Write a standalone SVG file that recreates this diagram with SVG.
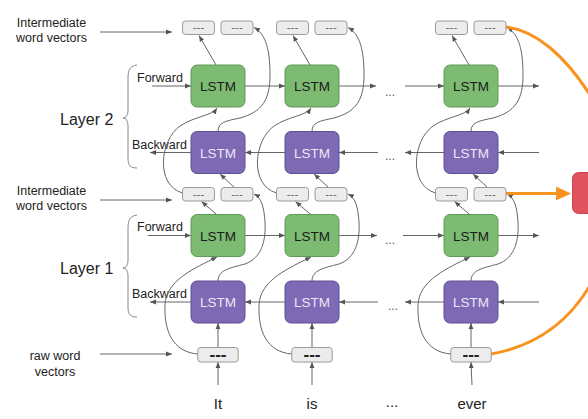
<svg xmlns="http://www.w3.org/2000/svg" width="588" height="419" viewBox="0 0 588 419">
<defs>
<marker id="ah" viewBox="0 0 10 10" refX="10" refY="5" markerWidth="6" markerHeight="6" markerUnits="userSpaceOnUse" orient="auto"><path d="M0,1 L10,5 L0,9 z" fill="#555"/></marker>
<style>
text{font-family:"Liberation Sans",Arial,sans-serif}
.lbl{font-size:12.5px;fill:#222}
.big{font-size:16px;fill:#222}
.word{font-size:15px;fill:#222;text-anchor:middle}
.dots{font-size:12px;fill:#555;text-anchor:middle}
.vec rect{fill:#ececec;stroke:#9a9a9a;stroke-width:1}
.vec text{font-size:11.5px;fill:#666;text-anchor:middle}
.raw rect{fill:#ececec;stroke:#9a9a9a;stroke-width:1}
.raw text{font-size:17px;font-weight:bold;fill:#222;text-anchor:middle}
.fw rect{fill:#7dbb72;stroke:#5e9a57;stroke-width:1}
.fw text{font-size:13.5px;fill:#1a1a1a;text-anchor:middle}
.bw rect{fill:#7d69b4;stroke:#5f4f93;stroke-width:1}
.bw text{font-size:13.5px;fill:#ebe6f7;text-anchor:middle}
.c{fill:none;stroke:#666;stroke-width:1;marker-end:url(#ah)}
.br{fill:none;stroke:#888;stroke-width:1}
.or{fill:none;stroke:#f7931e;stroke-width:3}
</style>
</defs>
<rect width="588" height="419" fill="#fff"/>

<g id="labels">
<text class="lbl" x="51.5" y="27" text-anchor="middle">Intermediate</text>
<text class="lbl" x="51.5" y="42" text-anchor="middle">word vectors</text>
<text class="lbl" x="51.5" y="195" text-anchor="middle">Intermediate</text>
<text class="lbl" x="51.5" y="210" text-anchor="middle">word vectors</text>
<text class="lbl" x="55" y="360" text-anchor="middle">raw word</text>
<text class="lbl" x="55" y="376" text-anchor="middle">vectors</text>
<text class="lbl" x="137" y="82">Forward</text>
<text class="lbl" x="132" y="149">Backward</text>
<text class="lbl" x="137" y="231">Forward</text>
<text class="lbl" x="132" y="298">Backward</text>
<text class="big" x="60" y="125">Layer 2</text>
<text class="big" x="60" y="274">Layer 1</text>
<path class="br" d="M137,65 C130,66 128,70 128,78 L128,110 C128,115 126,118 123,118 C126,118 128,121 128,126 L128,158 C128,165 130,168 137,168"/>
<path class="br" d="M137,215 C130,216 128,220 128,228 L128,260 C128,265 126,268 123,268 C126,268 128,271 128,276 L128,307 C128,314 130,317 137,317"/>
<text class="word" x="218" y="409">It</text>
<text class="word" x="312" y="409">is</text>
<text class="word" x="392" y="407">...</text>
<text class="word" x="472" y="409">ever</text>
<text class="dots" x="390" y="96">...</text>
<text class="dots" x="390" y="160">...</text>
<text class="dots" x="390" y="244">...</text>
<text class="dots" x="393" y="310">...</text>
</g>

<g id="connectors">
<path class="c" d="M100,32 L172,32"/>
<path class="c" d="M100,200 L172,200"/>
<path class="c" d="M100,354 L172,354"/>
<!-- layer 2 forward -->
<path class="c" d="M152,86 L191,86"/>
<path class="c" d="M245,86 L285,86"/>
<path class="c" d="M339,86 L376,86"/>
<path class="c" d="M405,86 L444,86"/>
<path class="c" d="M498,86 L539,86"/>
<!-- layer 2 backward -->
<path class="c" d="M539,152.5 L498,152.5"/>
<path class="c" d="M444,152.5 L405,152.5"/>
<path class="c" d="M378,152.5 L339,152.5"/>
<path class="c" d="M285,152.5 L245,152.5"/>
<path class="c" d="M191,152.5 L150,152.5"/>
<!-- layer 1 forward -->
<path class="c" d="M148,235.5 L191,235.5"/>
<path class="c" d="M245,235.5 L285,235.5"/>
<path class="c" d="M339,235.5 L377,235.5"/>
<path class="c" d="M403,235.5 L444,235.5"/>
<path class="c" d="M498,235.5 L539,235.5"/>
<!-- layer 1 backward -->
<path class="c" d="M539,302 L498,302"/>
<path class="c" d="M444,302 L405,302"/>
<path class="c" d="M378,302 L339,302"/>
<path class="c" d="M285,302 L245,302"/>
<path class="c" d="M191,302 L150,302"/>
<!-- column 1 -->
<path class="c" d="M216,65 L199,35.5"/>
<path class="c" d="M218,131.5 C218,122 226,121 240,118 C262,112 270,100 270,75 C270,50 266,34 254,27.5"/>
<path class="c" d="M182.5,193 C155,185 160,140 180,126 C195,116 212,116 217,108"/>
<path class="c" d="M235,188 L220,174"/>
<path class="c" d="M216.7,214.5 L201.5,201.5"/>
<path class="c" d="M218,281 C218,270 230,268 245,264 C262,258 266,240 265,222 C264,208 262,198 254,194"/>
<path class="c" d="M198,354 C172,352 164,330 165,305 C166,280 195,268 217,257"/>
<path class="c" d="M218,347.5 L218,323"/>
<path class="c" d="M218,385 L218,362"/>
<!-- column 2 -->
<path class="c" d="M310,65 L293,35.5"/>
<path class="c" d="M312,131.5 C312,122 320,121 334,118 C356,112 364,100 364,75 C364,50 360,34 348,27.5"/>
<path class="c" d="M276.5,193 C249,185 254,140 274,126 C289,116 306,116 311,108"/>
<path class="c" d="M329,188 L314,174"/>
<path class="c" d="M310.7,214.5 L295.5,201.5"/>
<path class="c" d="M312,281 C312,270 324,268 339,264 C356,258 360,240 359,222 C358,208 356,198 348,194"/>
<path class="c" d="M292,354 C266,352 258,330 259,305 C260,280 289,268 311,257"/>
<path class="c" d="M312,347.5 L312,323"/>
<path class="c" d="M312,385 L312,362"/>
<!-- column 3 -->
<path class="c" d="M469,65 L452,35.5"/>
<path class="c" d="M471,131.5 C471,122 479,121 493,118 C515,112 523,100 523,75 C523,50 519,34 507,27.5"/>
<path class="c" d="M435.5,193 C408,185 413,140 433,126 C448,116 465,116 470,108"/>
<path class="c" d="M488,188 L473,174"/>
<path class="c" d="M469.7,214.5 L454.5,201.5"/>
<path class="c" d="M471,281 C471,270 483,268 498,264 C515,258 519,240 518,222 C517,208 515,198 507,194"/>
<path class="c" d="M451,354 C425,352 417,330 418,305 C419,280 448,268 470,257"/>
<path class="c" d="M471,347.5 L471,323"/>
<path class="c" d="M472,385 L471,362"/>
<!-- orange -->
<path class="or" d="M506,27 C535,30 565,55 592,98"/>
<path class="or" d="M506,193.5 L558,193.5"/>
<polygon points="556,186.5 571,193.5 556,200.5" fill="#f7931e"/>
<path class="or" d="M491,354 C525,348 565,330 592,282"/>
</g>

<g id="output"><rect x="572.5" y="172.5" width="30" height="41" rx="6" fill="#e0525e" stroke="#c94450" stroke-width="1"/></g>

<!-- column 1 nodes -->
<g id="c1-top-f" class="vec"><rect x="182.5" y="21" width="32" height="13.5" rx="3"/><text x="198.5" y="31">---</text></g>
<g id="c1-top-b" class="vec"><rect x="221" y="21" width="32" height="13.5" rx="3"/><text x="237" y="31">---</text></g>
<g id="c1-l2-fw" class="fw"><rect x="191" y="65" width="54" height="42" rx="6"/><text x="218" y="91">LSTM</text></g>
<g id="c1-l2-bw" class="bw"><rect x="191" y="131.5" width="54" height="42" rx="6"/><text x="218" y="157.5">LSTM</text></g>
<g id="c1-mid-f" class="vec"><rect x="182.5" y="187.5" width="32" height="13.5" rx="3"/><text x="198.5" y="197.5">---</text></g>
<g id="c1-mid-b" class="vec"><rect x="221" y="187.5" width="32" height="13.5" rx="3"/><text x="237" y="197.5">---</text></g>
<g id="c1-l1-fw" class="fw"><rect x="191" y="214.5" width="54" height="42" rx="6"/><text x="218" y="240.5">LSTM</text></g>
<g id="c1-l1-bw" class="bw"><rect x="191" y="281" width="54" height="42" rx="6"/><text x="218" y="307">LSTM</text></g>
<g id="c1-raw" class="raw"><rect x="197.75" y="347.5" width="40.5" height="14.5" rx="3"/><text x="218" y="360">---</text></g>

<!-- column 2 nodes -->
<g id="c2-top-f" class="vec"><rect x="276.5" y="21" width="32" height="13.5" rx="3"/><text x="292.5" y="31">---</text></g>
<g id="c2-top-b" class="vec"><rect x="315" y="21" width="32" height="13.5" rx="3"/><text x="331" y="31">---</text></g>
<g id="c2-l2-fw" class="fw"><rect x="285" y="65" width="54" height="42" rx="6"/><text x="312" y="91">LSTM</text></g>
<g id="c2-l2-bw" class="bw"><rect x="285" y="131.5" width="54" height="42" rx="6"/><text x="312" y="157.5">LSTM</text></g>
<g id="c2-mid-f" class="vec"><rect x="276.5" y="187.5" width="32" height="13.5" rx="3"/><text x="292.5" y="197.5">---</text></g>
<g id="c2-mid-b" class="vec"><rect x="315" y="187.5" width="32" height="13.5" rx="3"/><text x="331" y="197.5">---</text></g>
<g id="c2-l1-fw" class="fw"><rect x="285" y="214.5" width="54" height="42" rx="6"/><text x="312" y="240.5">LSTM</text></g>
<g id="c2-l1-bw" class="bw"><rect x="285" y="281" width="54" height="42" rx="6"/><text x="312" y="307">LSTM</text></g>
<g id="c2-raw" class="raw"><rect x="291.75" y="347.5" width="40.5" height="14.5" rx="3"/><text x="312" y="360">---</text></g>

<!-- column 3 nodes -->
<g id="c3-top-f" class="vec"><rect x="435.5" y="21" width="32" height="13.5" rx="3"/><text x="451.5" y="31">---</text></g>
<g id="c3-top-b" class="vec"><rect x="474" y="21" width="32" height="13.5" rx="3"/><text x="490" y="31">---</text></g>
<g id="c3-l2-fw" class="fw"><rect x="444" y="65" width="54" height="42" rx="6"/><text x="471" y="91">LSTM</text></g>
<g id="c3-l2-bw" class="bw"><rect x="444" y="131.5" width="54" height="42" rx="6"/><text x="471" y="157.5">LSTM</text></g>
<g id="c3-mid-f" class="vec"><rect x="435.5" y="187.5" width="32" height="13.5" rx="3"/><text x="451.5" y="197.5">---</text></g>
<g id="c3-mid-b" class="vec"><rect x="474" y="187.5" width="32" height="13.5" rx="3"/><text x="490" y="197.5">---</text></g>
<g id="c3-l1-fw" class="fw"><rect x="444" y="214.5" width="54" height="42" rx="6"/><text x="471" y="240.5">LSTM</text></g>
<g id="c3-l1-bw" class="bw"><rect x="444" y="281" width="54" height="42" rx="6"/><text x="471" y="307">LSTM</text></g>
<g id="c3-raw" class="raw"><rect x="450.75" y="347.5" width="40.5" height="14.5" rx="3"/><text x="471" y="360">---</text></g>
</svg>
